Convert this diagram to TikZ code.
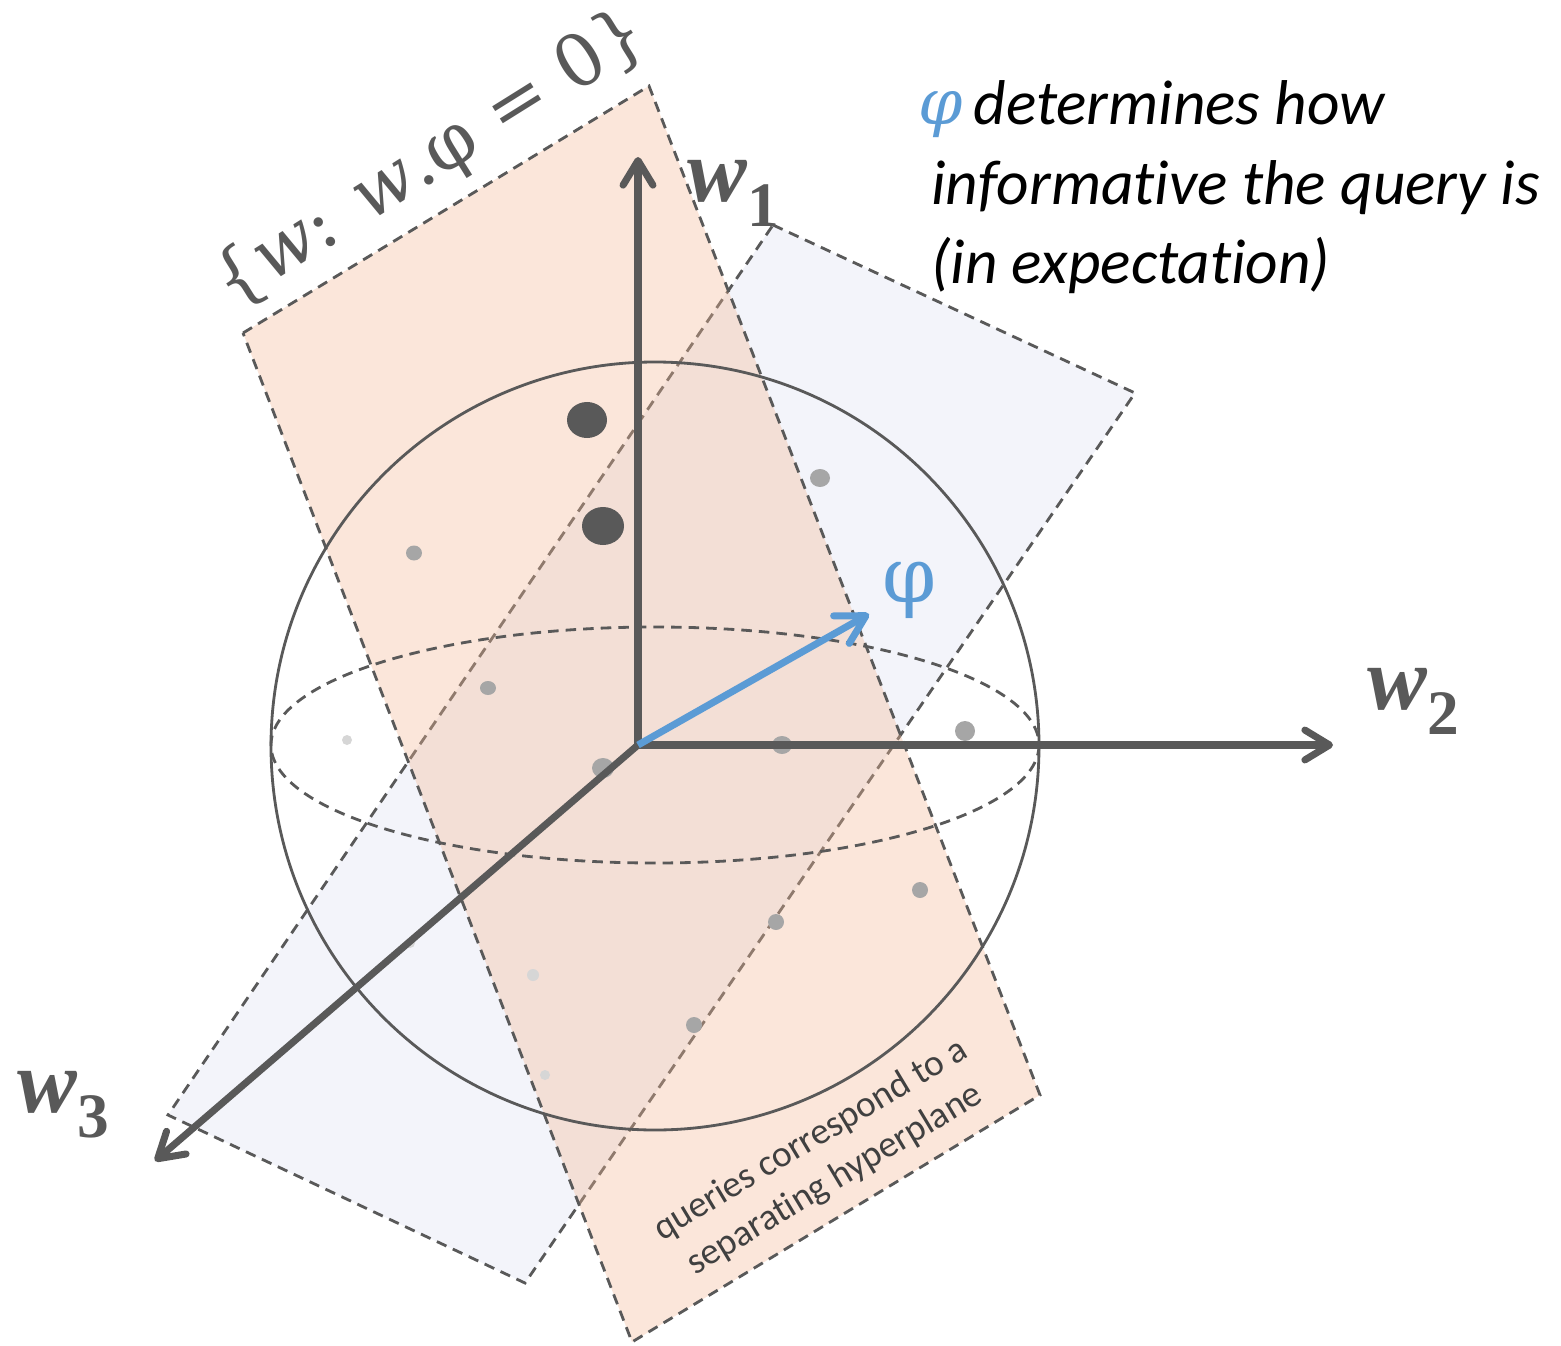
\documentclass[tikz,border=0pt]{standalone}
\usepackage{fontspec}
\setmainfont{Carlito}[Ligatures=NoCommon]
\newfontfamily\phifont{DejaVu Serif}
\newfontfamily\axfont{Liberation Serif}
\usetikzlibrary{arrows.meta}

\definecolor{axisgray}{HTML}{595959}
\definecolor{textgray}{HTML}{404040}
\definecolor{phiblue}{HTML}{5B9BD5}
\definecolor{planeblue}{HTML}{F3F4FA}
\definecolor{planeorange}{RGB}{244,184,149}
\definecolor{dotmid}{HTML}{A6A6A6}
\definecolor{dotlight}{HTML}{D6D6D6}

\newcommand\axname[1]{{\axfont\bfseries\itshape w}\raisebox{-0.28em}{\axfont\bfseries\fontsize{18}{20}\selectfont #1}}

\begin{document}
\begin{tikzpicture}[
  x=0.01cm, y=-0.01cm,
  plane/.style={draw=axisgray, dash pattern=on 3pt off 2pt, line width=0.8pt},
  axis/.style={draw=axisgray, line width=2pt, line cap=round, -{Straight Barb[length=7pt, width=8.5pt, round]}},
  phiarrow/.style={draw=phiblue, line width=2pt, -{Straight Barb[length=8pt, width=9pt, round]}},
  axlabel/.style={text=axisgray, font=\fontsize{25.5}{30}\selectfont, inner sep=0pt},
  bigdot/.style={fill=axisgray},
  middot/.style={fill=dotmid},
  smalldot/.style={fill=dotlight}
]
\useasboundingbox (0,0) rectangle (1561,1346);

% planes
\fill[planeblue] (773,225) -- (1135,393) -- (525,1283) -- (168,1115) -- cycle;
\draw[plane] (773,225) -- (1135,393) -- (525,1283) -- (168,1115) -- cycle;
\fill[planeorange, fill opacity=0.35] (243,333) -- (649,86) -- (1040,1095) -- (632,1342) -- cycle;
\draw[plane] (243,333) -- (649,86) -- (1040,1095) -- (632,1342) -- cycle;

% sphere
\draw[axisgray, line width=0.8pt] (655,746) circle [radius=384];
\draw[plane] (655,745) ellipse [x radius=384, y radius=118];

% dots
\fill[bigdot] (587,420) ellipse [x radius=20, y radius=18];
\fill[bigdot] (603,526) ellipse [x radius=21, y radius=19];
\fill[middot] (820,478) ellipse [x radius=10, y radius=9];
\fill[middot] (414,553) ellipse [x radius=8, y radius=7.5];
\fill[middot] (488,688) ellipse [x radius=8, y radius=7];
\fill[middot] (603,768) ellipse [x radius=11, y radius=10];
\fill[middot] (782,745) ellipse [x radius=10, y radius=9];
\fill[middot] (965,731) ellipse [x radius=10, y radius=10];
\fill[middot] (920,890) ellipse [x radius=8, y radius=8];
\fill[middot] (776,922) ellipse [x radius=8, y radius=8];
\fill[middot] (694,1025) ellipse [x radius=8, y radius=8];
\fill[smalldot] (347,740) circle [radius=5];
\fill[smalldot] (410,943) circle [radius=5];
\fill[smalldot] (533,975) circle [radius=6];
\fill[smalldot] (545,1075) circle [radius=5];

% axes
\coordinate (o) at (638,745);
\coordinate (w1tip) at (638,157);
\coordinate (w2tip) at (1333,745);
\coordinate (w3tip) at (155,1161);
\coordinate (phitip) at (869,614);
\draw[axis] (o) -- (w1tip);
\draw[axis] (o) -- (w2tip);
\draw[axis] (o) -- (w3tip);
\draw[phiarrow] (o) -- (phitip);

\node[axlabel] (w1) at (733,193) {\axname{1}};
\node[axlabel] (w2) at (1413,701) {\axname{2}};
\node[axlabel] (w3) at (63,1105) {\axname{3}};
\node[text=phiblue, font=\phifont\fontsize{22}{24}\selectfont, inner sep=0pt] (phi) at (910,590) {φ};

% labels
\node[rotate=32, text=axisgray, font=\phifont\fontsize{20.5}{24}\selectfont, inner sep=0pt] (set) at (431,160)
  {\{\textit{w}: \textit{w}.φ = 0\}};
\node[anchor=north west, align=left, inner sep=0pt, font=\itshape\fontsize{18}{22.6}\selectfont] (info) at (918,80)
  {{\color{phiblue}\phifont φ}\,determines how\\ \hspace*{0.2em}informative the query is\\ \hspace*{0.2em}(in expectation)};
\node[rotate=31, align=center, text=textgray, font=\fontsize{10.6}{13.2}\selectfont, inner sep=0pt] (query) at (823,1160)
  {queries correspond to a\\ separating hyperplane};
\end{tikzpicture}
\end{document}
